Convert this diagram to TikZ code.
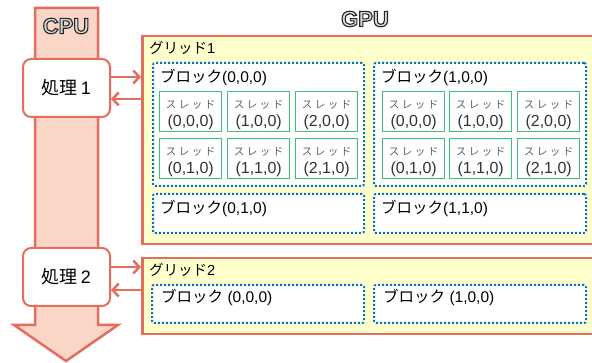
\documentclass[tikz,border=0pt]{standalone}
\usepackage{fontspec}
\setmainfont{Liberation Sans}
\newfontfamily\jp{Noto Sans CJK JP}
\usetikzlibrary{arrows.meta,calc}

\definecolor{cpured}{RGB}{228,110,94}
\definecolor{cpupink}{RGB}{249,214,200}
\definecolor{gridyellow}{RGB}{255,255,204}
\definecolor{blockblue}{RGB}{0,114,198}
\definecolor{threadgreen}{RGB}{64,190,120}
\definecolor{threadgray}{RGB}{95,95,95}

% letter-spaced thread caption
\newcommand\sled{\makebox[13pt]{ス}\makebox[13pt]{レ}\makebox[13pt]{ッ}\makebox[13pt]{ド}}

% hollow title lettering: light fill, dark stroke (PDF text render mode 2)
\newcommand\hollow[1]{\textcolor{black!15}{\special{pdf:literal direct 2 Tr 1.1 w 0.15 G}#1\special{pdf:literal direct 0 Tr}}}

% one thread box with its caption and index
\newcommand\thread[4]{%
  \node[threadbox] (#1) at (#2,#3) {};
  \node[sledtext] (#1-k) at ([yshift=6.5pt]#1.center) {\sled};
  \node[idxtext] (#1-i) at ([yshift=-10.5pt]#1.center) {#4};
}

\tikzset{
  procbox/.style={draw=cpured, line width=2pt, fill=white, rounded corners=8pt,
    minimum width=87pt, minimum height=58pt, inner sep=0pt,
    font=\fontsize{18}{20}\selectfont},
  gridbox/.style={draw=cpured, line width=2.5pt, fill=gridyellow,
    anchor=north west, inner sep=0pt},
  blockbox/.style={draw=blockblue, line width=2pt, dash pattern=on 2pt off 2pt,
    fill=white, rounded corners=2pt, anchor=north west, inner sep=0pt},
  threadbox/.style={draw=threadgreen, line width=1.3pt, fill=white,
    minimum width=62pt, minimum height=40pt, anchor=north west, inner sep=0pt},
  sledtext/.style={inner sep=0pt, text=threadgray, font=\jp\fontsize{10.5}{12}\selectfont},
  idxtext/.style={inner sep=0pt, text=black!80, font=\fontsize{16}{18}\selectfont},
  gridlabel/.style={inner sep=0pt, anchor=west, font=\fontsize{14.5}{16}\selectfont},
  blocklabel/.style={inner sep=0pt, anchor=west, font=\fontsize{15.5}{17}\selectfont},
  title/.style={inner sep=0pt, font=\bfseries\fontsize{22}{24}\selectfont},
  link/.style={draw=cpured, line width=2.5pt, -{Straight Barb[length=6pt,width=13pt]}},
}

\begin{document}
\begin{tikzpicture}[x=1pt,y=-1pt]
\useasboundingbox (0,0) rectangle (592,363);

% CPU timeline arrow
\draw[draw=cpured, fill=cpupink, line width=2.5pt, line join=miter]
  (35,8) -- (98,8) -- (98,325) -- (118,325) -- (66,361) -- (14,325) -- (35,325) -- cycle;

% titles
\node[title] (cputitle) at (66,26) {\hollow{CPU}};
\node[title] (gputitle) at (365,19) {\hollow{GPU}};

% processing steps on the CPU
\node[procbox] (p1) at (66.5,88) {{\jp 処理}\,1};
\node[procbox] (p2) at (66.5,277) {{\jp 処理}\,2};

% grids
\node[gridbox, minimum width=452pt, minimum height=208pt] (g1) at (141,35) {};
\node[gridbox, minimum width=452pt, minimum height=76pt] (g2) at (141,257) {};
\node[gridlabel] (g1l) at (149,48) {{\jp グリッド}1};
\node[gridlabel] (g2l) at (149,270) {{\jp グリッド}2};

% blocks of grid 1
\node[blockbox, minimum width=211pt, minimum height=123pt] (b000) at (152,62) {};
\node[blockbox, minimum width=212pt, minimum height=123pt] (b100) at (373,62) {};
\node[blockbox, minimum width=211pt, minimum height=39pt] (b010) at (152,193) {};
\node[blockbox, minimum width=212pt, minimum height=39pt] (b110) at (373,193) {};
\node[blocklabel] (b000l) at ([xshift=8pt,yshift=-15pt]b000.north west) {{\jp ブロック}(0,0,0)};
\node[blocklabel] (b100l) at ([xshift=8pt,yshift=-15pt]b100.north west) {{\jp ブロック}(1,0,0)};
\node[blocklabel] (b010l) at ([xshift=8pt,yshift=-15pt]b010.north west) {{\jp ブロック}(0,1,0)};
\node[blocklabel] (b110l) at ([xshift=8pt,yshift=-15pt]b110.north west) {{\jp ブロック}(1,1,0)};

% blocks of grid 2
\node[blockbox, minimum width=212pt, minimum height=38pt] (c000) at (151,284) {};
\node[blockbox, minimum width=212pt, minimum height=38pt] (c100) at (373,284) {};
\node[blocklabel] (c000l) at ([xshift=10pt,yshift=-13pt]c000.north west) {{\jp ブロック} (0,0,0)};
\node[blocklabel] (c100l) at ([xshift=10pt,yshift=-13pt]c100.north west) {{\jp ブロック} (1,0,0)};

% threads of block (0,0,0)
\thread{ta000}{159}{91}{(0,0,0)}
\thread{ta100}{227}{91}{(1,0,0)}
\thread{ta200}{295}{91}{(2,0,0)}
\thread{ta010}{159}{138}{(0,1,0)}
\thread{ta110}{227}{138}{(1,1,0)}
\thread{ta210}{295}{138}{(2,1,0)}

% threads of block (1,0,0)
\thread{tb000}{382}{91}{(0,0,0)}
\thread{tb100}{449}{91}{(1,0,0)}
\thread{tb200}{517}{91}{(2,0,0)}
\thread{tb010}{382}{138}{(0,1,0)}
\thread{tb110}{449}{138}{(1,1,0)}
\thread{tb210}{517}{138}{(2,1,0)}

% calls into the GPU and results back
\draw[link] ([yshift=11pt]p1.east) -- ([yshift=11pt]p1.east -| g1.west);
\draw[link] ([yshift=-11pt]p1.east -| g1.west) -- ([yshift=-11pt]p1.east);
\draw[link] ([yshift=10pt]p2.east) -- ([yshift=10pt]p2.east -| g2.west);
\draw[link] ([yshift=-13pt]p2.east -| g2.west) -- ([yshift=-13pt]p2.east);
\end{tikzpicture}
\end{document}
